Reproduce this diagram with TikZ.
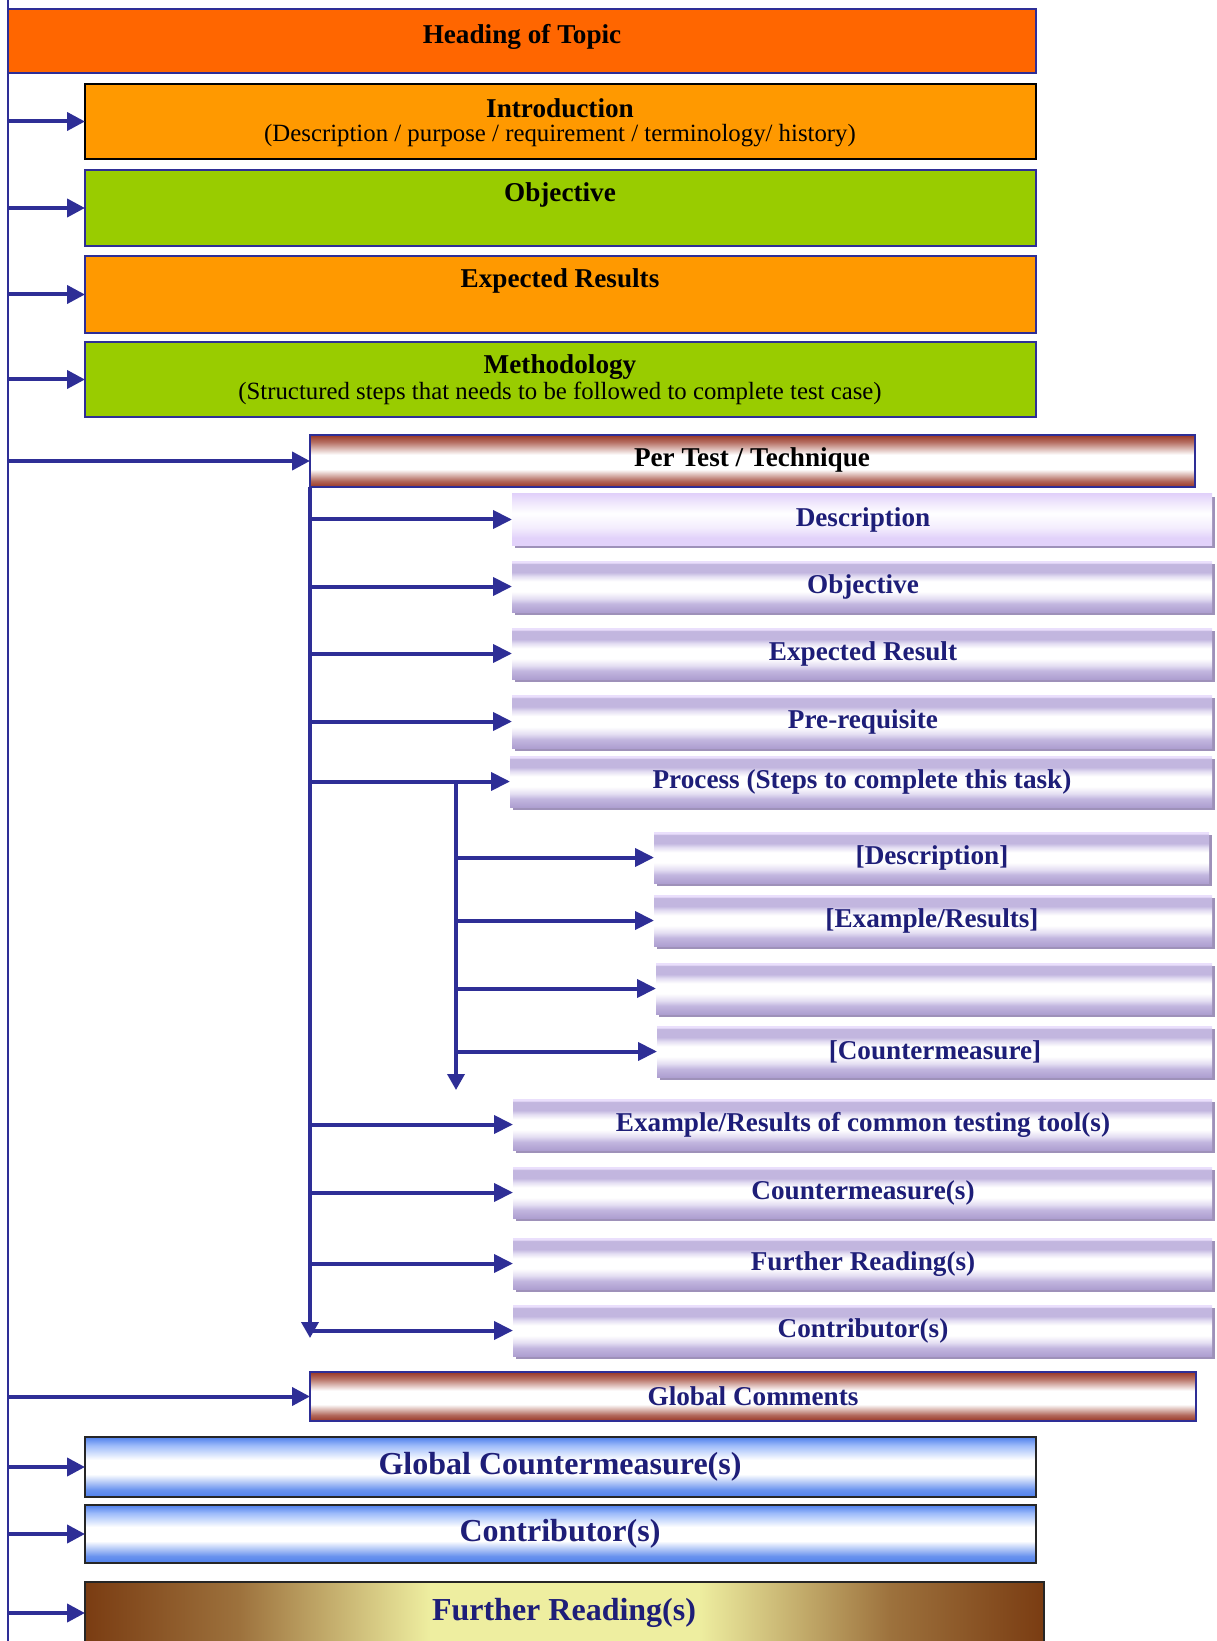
\documentclass[tikz,border=0pt]{standalone}
\usepackage{fontspec}
\setmainfont{Liberation Serif}
\usetikzlibrary{arrows.meta,fit,shadows}

% palette
\definecolor{navy}{HTML}{2E2E96}
\definecolor{inknavy}{HTML}{1E1E78}
\definecolor{headorange}{HTML}{FF6600}
\definecolor{boxorange}{HTML}{FF9900}
\definecolor{boxgreen}{HTML}{99CC00}
\definecolor{rust}{HTML}{983524}
\definecolor{lilac}{HTML}{E2D2FA}
\definecolor{lilacedge}{HTML}{EADFFC}
\definecolor{ditherdk}{HTML}{AE9FD0}
\definecolor{dithermd}{HTML}{C2B6DF}
\definecolor{ditherlt}{HTML}{E3DDF2}
\definecolor{shadowpurple}{HTML}{8676A8}
\definecolor{skyblue}{HTML}{4F80EC}
\definecolor{skymid}{HTML}{9DBBFA}
\definecolor{bronze}{HTML}{7A3C12}
\definecolor{straw}{HTML}{EEEEA0}

% vertical shadings (the central 25bp..75bp band covers the shape, 25bp = bottom)
\pgfdeclareverticalshading{rustbar}{100bp}{color(0bp)=(rust); color(25bp)=(rust);
  color(31bp)=(rust!75!white); color(42bp)=(white); color(56bp)=(white);
  color(68bp)=(rust!70!white); color(75bp)=(rust); color(100bp)=(rust)}
\pgfdeclareverticalshading{lilacbar}{100bp}{color(0bp)=(lilac); color(25bp)=(lilac);
  color(32bp)=(lilac); color(42bp)=(white!60!lilac); color(56bp)=(white);
  color(66bp)=(white!50!lilac); color(75bp)=(lilac); color(100bp)=(lilac)}
\pgfdeclareverticalshading{ditherbar}{100bp}{color(0bp)=(ditherdk); color(25bp)=(ditherdk);
  color(33bp)=(dithermd); color(38bp)=(ditherlt); color(45bp)=(white);
  color(55bp)=(white); color(60bp)=(ditherlt); color(64bp)=(dithermd);
  color(72bp)=(dithermd); color(73.5bp)=(lilacedge); color(75bp)=(lilacedge); color(100bp)=(lilacedge)}
\pgfdeclareverticalshading{bluebar}{100bp}{color(0bp)=(skyblue); color(25bp)=(skyblue);
  color(31bp)=(skyblue!85!white); color(44bp)=(white); color(56bp)=(white);
  color(68bp)=(skymid); color(75bp)=(skyblue); color(100bp)=(skyblue)}
\pgfdeclarehorizontalshading{bronzebar}{100bp}{color(0bp)=(bronze); color(25bp)=(bronze);
  color(33bp)=(bronze!70!straw); color(43bp)=(straw); color(57bp)=(straw);
  color(67bp)=(bronze!70!straw); color(75bp)=(bronze); color(100bp)=(bronze)}

\tikzset{
  box/.style={inner sep=0pt, outer sep=0pt, line width=0.6pt},
  plainbox/.style={box, draw=navy},
  rustbox/.style={box, draw=navy, line width=1pt, shading=rustbar},
  liftbox/.style={box, draw=none,
    drop shadow={shadow xshift=1.3pt, shadow yshift=-1.3pt, fill=shadowpurple, opacity=0.8}},
  lilacbox/.style={liftbox, shading=lilacbar},
  ditherbox/.style={liftbox, shading=ditherbar},
  bluebox/.style={box, draw=black!85, line width=1pt, shading=bluebar},
  bronzebox/.style={box, draw=black!85, line width=1pt, shading=bronzebar},
  ttl/.style={font=\fontsize{13.6}{15}\selectfont\bfseries, inner sep=0pt},
  sub/.style={font=\fontsize{12.4}{14}\selectfont, inner sep=0pt},
  ptl/.style={ttl, text=inknavy},
  big/.style={font=\fontsize{16}{18}\selectfont\bfseries, text=inknavy, inner sep=0pt},
  spine/.style={draw=navy, line width=1pt},
  trunk/.style={draw=navy, line width=1.8pt},
  arr/.style={draw=navy, line width=2pt, -{Triangle[width=9pt,length=9pt]}},
  brarr/.style={draw=navy, line width=2pt, -{Triangle[width=9pt,length=9.5pt]}},
  downarr/.style={trunk, -{Triangle[width=8.5pt,length=8pt]}},
}

\begin{document}
\begin{tikzpicture}[x=0.5pt,y=-0.5pt]
\useasboundingbox (0,0) rectangle (1216,1641);

% ---------- top-level boxes ----------
\node (head) [plainbox, fill=headorange, fit={(8,9) (1036,73)}] {};
\node (headT) [ttl] at (522,37) {Heading of Topic};

\node (intro) [box, draw=black, fill=boxorange, fit={(85,84) (1036,159)}] {};
\node (introT) [ttl] at (560,108) {Introduction};
\node (introS) [sub] at (560,136) {(Description / purpose / requirement / terminology/ history)};

\node (obj) [plainbox, fill=boxgreen, fit={(85,170) (1036,246)}] {};
\node (objT) [ttl] at (560,195) {Objective};

\node (exp) [plainbox, fill=boxorange, fit={(85,256) (1036,333)}] {};
\node (expT) [ttl] at (560,281) {Expected Results};

\node (meth) [plainbox, fill=boxgreen, fit={(85,342) (1036,417)}] {};
\node (methT) [ttl] at (560,367) {Methodology};
\node (methS) [sub] at (560,393) {(Structured steps that needs to be followed to complete test case)};

% ---------- per test / technique ----------
\node (pt) [rustbox, fit={(310,435) (1195,487)}] {};
\node (ptT) [ttl] at (752,460) {Per Test / Technique};

\node (desc) [lilacbox, fit={(512,494) (1212,545)}] {};
\node (descT) [ptl] at (863,520) {Description};

\node (tobj) [ditherbox, fit={(512,561) (1212,612)}] {};
\node (tobjT) [ptl] at (863,587) {Objective};

\node (texp) [ditherbox, fit={(512,628) (1212,679)}] {};
\node (texpT) [ptl] at (863,654) {Expected Result};

\node (preq) [ditherbox, fit={(512,695) (1212,748)}] {};
\node (preqT) [ptl] at (863,722) {Pre-requisite};

\node (proc) [ditherbox, fit={(510,756) (1212,807)}] {};
\node (procT) [ptl] at (862,782) {Process (Steps to complete this task)};

\node (pdesc) [ditherbox, fit={(654,832) (1209,883)}] {};
\node (pdescT) [ptl] at (932,858) {[Description]};

\node (pex) [ditherbox, fit={(654,895) (1212,946)}] {};
\node (pexT) [ptl] at (932,921) {[Example/Results]};

\node (pnone) [ditherbox, fit={(656,963) (1212,1014)}] {};

\node (pcm) [ditherbox, fit={(657,1026) (1212,1077)}] {};
\node (pcmT) [ptl] at (935,1052) {[Countermeasure]};

\node (tex) [ditherbox, fit={(513,1099) (1212,1150)}] {};
\node (texT) [ptl] at (863,1125) {Example/Results of common testing tool(s)};

\node (tcm) [ditherbox, fit={(513,1167) (1212,1218)}] {};
\node (tcmT) [ptl] at (863,1193) {Countermeasure(s)};

\node (tfr) [ditherbox, fit={(513,1238) (1212,1289)}] {};
\node (tfrT) [ptl] at (863,1264) {Further Reading(s)};

\node (tcon) [ditherbox, fit={(513,1305) (1212,1356)}] {};
\node (tconT) [ptl] at (863,1331) {Contributor(s)};

% ---------- global sections ----------
\node (gcom) [rustbox, fit={(310,1372) (1196,1421)}] {};
\node (gcomT) [ptl] at (753,1396) {Global Comments};

\node (gcm) [bluebox, fit={(85,1437) (1036,1497)}] {};
\node (gcmT) [big] at (560,1467) {Global Countermeasure(s)};

\node (gcon) [bluebox, fit={(85,1505) (1036,1563)}] {};
\node (gconT) [big] at (560,1534) {Contributor(s)};

\node (gfr) [bronzebox, fit={(85,1582) (1044,1662)}] {};
\node (gfrT) [big] at (564,1613) {Further Reading(s)};

% ---------- main spine ----------
\coordinate (sTop) at (8,0);
\coordinate (sBot) at (8,1641);
\draw[spine] (sTop) -- (sBot);
\foreach \b in {intro,obj,exp,meth,pt,gcom,gcm,gcon}
  \draw[arr] (sTop |- \b.west) -- (\b.west);
\draw[arr] (sTop |- gfrT) -- (gfr.west |- gfrT);

% ---------- per-test trunk ----------
\coordinate (tTop) at (pt.south west);
\coordinate (tEnd) at (0,1338);
\coordinate (tBot) at (tTop |- tEnd);
\draw[downarr] (tTop) -- (tBot);
\foreach \b in {desc,tobj,texp,preq,proc,tex,tcm,tfr}
  \draw[brarr] (tTop |- \b.west) -- (\b.west);
\draw[brarr] (tTop |- tcon.west) -- (tcon.west);

% ---------- process sub-trunk ----------
\coordinate (pX) at (456,0);
\coordinate (pTop) at (pX |- proc.west);
\coordinate (pBot) at (456,1090);
\draw[downarr] (pTop) -- (pBot);
\foreach \b in {pdesc,pex,pnone,pcm}
  \draw[brarr] (pTop |- \b.west) -- (\b.west);

\end{tikzpicture}
\end{document}
